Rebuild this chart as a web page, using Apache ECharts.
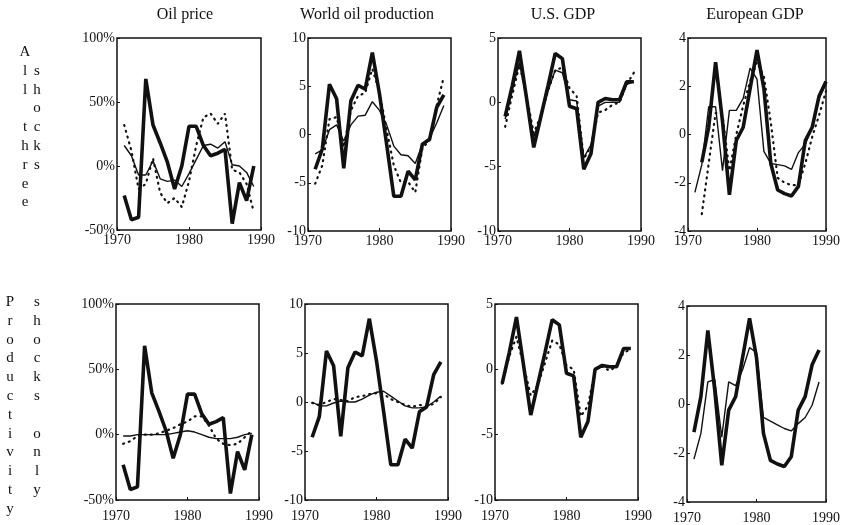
<!DOCTYPE html>
<html>
<head>
<meta charset="utf-8">
<script src="https://cdn.jsdelivr.net/npm/echarts@6/dist/echarts.min.js"></script>
<style>
  html, body { margin: 0; padding: 0; background: #fff; }
  #chart { width: 843px; height: 525px; }
</style>
</head>
<body>
<div id="chart"></div>
<script>
// years of the annual observations
var years = [1971, 1972, 1973, 1974, 1975, 1976, 1977, 1978, 1979, 1980,
             1981, 1982, 1983, 1984, 1985, 1986, 1987, 1988, 1989];
var yearsLate = [1972, 1973, 1974, 1975, 1976, 1977, 1978, 1979, 1980, 1981,
                 1982, 1983, 1984, 1985, 1986, 1987, 1988, 1989, 1990];
var yearsLong = [1971, 1972, 1973, 1974, 1975, 1976, 1977, 1978, 1979, 1980,
                 1981, 1982, 1983, 1984, 1985, 1986, 1987, 1988, 1989, 1990];

var titles = ['Oil price', 'World oil production', 'U.S. GDP', 'European GDP'];
var xTicks = [1970, 1990, 10];
// [min, max, interval, suffix] for each column
var yTicks = [[-50, 100, 50, '%'], [-10, 10, 5, ''], [-10, 5, 5, ''], [-4, 4, 2, '']];

// oil price
var oilActual = [-23, -42, -40, 68, 32, 18, 3, -18, 0, 31, 31, 16, 8, 10, 13, -45, -13, -27, 0];
var oilAllThin = [16, 8, -7, -7, 4, -10, -12, -11, -16, -6, 5, 16, 17, 14, 19, 1, 0, -5, -16];
var oilAllDot = [32, 12, -18, -14, 6, -21, -29, -25, -32, -12, 16, 38, 41, 33, 41, -3, -5, -14, -36];
var oilProdThin = [-1, -1, 0, 0, 0, 0, 0, 1, 2, 3, 2, 0, -2, -3, -3, -3, -2, 0, 1];
var oilProdDot = [-7, -5, -1, 0, 0, 1, 3, 5, 8, 10, 14, 14, 7, -3, -7, -8, -7, -2, 3];

// world oil production
var worldActual = [-3.6, -1.5, 5.2, 3.7, -3.5, 3.5, 5.1, 4.7, 8.5, 4.2, -1.0, -6.4, -6.4, -3.8, -4.7, -1.0, -0.5, 2.8, 4.1];
var worldAllThin = [-2.0, -1.6, 0.5, 1.0, -0.7, 1.0, 1.9, 2.0, 3.4, 2.5, 1.0, -1.2, -2.1, -2.2, -3.0, -1.0, -0.4, 1.2, 3.0];
var worldAllDot = [-5.1, -3.2, 1.6, 1.8, -1.3, 2.5, 4.0, 4.3, 6.8, 4.4, 0.5, -3.2, -5.0, -4.9, -6.0, -1.4, -0.6, 3.0, 6.0];
var worldProdThin = [0, -0.4, -0.4, -0.1, 0.1, 0, 0, 0.3, 0.7, 1.0, 1.1, 0.6, 0.1, -0.4, -0.6, -0.6, -0.5, 0, 0.6];
var worldProdDot = [-0.1, -0.3, 0, 0.3, 0.2, 0.1, 0.5, 0.6, 0.8, 0.9, 0.8, 0.3, 0, -0.3, -0.5, -0.3, -0.4, -0.2, 0.5];

// U.S. GDP
var usActual = [-1.1, 1.3, 4.0, 0.3, -3.5, -1.1, 1.3, 3.8, 3.4, -0.3, -0.5, -5.2, -4.0, 0.0, 0.3, 0.2, 0.2, 1.6, 1.6];
var usAllThin = [-1.3, 1.0, 3.1, 0.2, -2.7, -1.1, 0.9, 2.5, 2.3, 0.2, 0.1, -4.3, -3.3, -0.3, 0.0, 0.0, 0.0, 1.4, 1.6];
var usAllDot = [-1.9, 0.6, 2.9, 0.5, -2.4, -1.0, 0.9, 2.5, 2.7, 1.1, 0.5, -4.4, -3.4, -0.8, -0.6, -0.2, 0.0, 1.4, 2.3];
var usProdDot = [-1.1, 1.0, 2.5, 0.3, -2.0, -1.2, 0.5, 2.2, 1.9, 0.3, 0.0, -3.6, -2.8, 0.0, 0.2, -0.1, 0.2, 1.3, 1.5];

// European GDP
var euActual = [-1.15, 0.3, 3.0, 0.55, -2.5, -0.25, 0.3, 1.9, 3.5, 1.9, -1.2, -2.3, -2.45, -2.55, -2.15, -0.25, 0.3, 1.6, 2.2];
var euAllThin = [-2.4, -1.25, 1.15, 1.15, -1.5, 1.0, 1.0, 1.5, 2.75, 2.3, -0.7, -1.2, -1.25, -1.3, -1.45, -0.75, -0.4, 0.3, 1.5, 2.1];
var euAllDot = [-3.3, -1.2, 0.9, 0.8, -1.5, 0.0, 1.2, 2.2, 3.0, 2.4, 0.5, -1.8, -2.0, -2.1, -2.1, -1.2, -0.1, 0.8, 1.8];
var euProdThin = [-2.25, -1.2, 0.9, 1.0, -1.35, 0.9, 0.75, 1.4, 2.3, 2.1, -0.55, -0.7, -0.85, -1.0, -1.1, -0.8, -0.55, -0.05, 0.9];

var FONT = 'Liberation Serif';
var INK = '#111';

var grids = [
    {left: 117, top: 38, width: 144, height: 192},
    {left: 308, top: 38, width: 143, height: 193},
    {left: 498, top: 38, width: 143, height: 193},
    {left: 688, top: 38, width: 142, height: 193},
    {left: 116, top: 304, width: 143, height: 196},
    {left: 305, top: 304, width: 143, height: 196},
    {left: 495, top: 304, width: 143, height: 196},
    {left: 687, top: 306, width: 142, height: 196}
];

var styles = {
    thick: {width: 3.6, color: INK},
    thin: {width: 1.4, color: INK},
    dot: {width: 2.2, color: INK, type: [1, 5], cap: 'round'}
};

function line(gi, xs, ys, kind) {
    return {
        type: 'line',
        xAxisIndex: gi,
        yAxisIndex: gi,
        data: xs.map(function (x, i) { return [x, ys[i]]; }),
        showSymbol: false,
        silent: true,
        lineStyle: styles[kind],
        z: kind === 'thick' ? 3 : 2
    };
}

var xAxes = [], yAxes = [];
grids.forEach(function (g, i) {
    var col = i % 4, yt = yTicks[col];
    xAxes.push({
        type: 'value', gridIndex: i, min: xTicks[0], max: xTicks[1], interval: xTicks[2],
        splitLine: {show: false},
        axisLine: {show: false, onZero: false},
        axisTick: {inside: true, length: 3, lineStyle: {color: INK}},
        axisLabel: {color: INK, fontFamily: FONT, fontSize: 14, margin: i < 4 ? 3 : 9,
            formatter: function (v) { return String(v); }}
    });
    yAxes.push({
        type: 'value', gridIndex: i, min: yt[0], max: yt[1], interval: yt[2],
        splitLine: {show: false},
        axisLine: {show: false, onZero: false},
        axisTick: {inside: true, length: 3, lineStyle: {color: INK}},
        axisLabel: {color: INK, fontFamily: FONT, fontSize: 14, margin: 2,
            formatter: function (v) { return v + yt[3]; }}
    });
});

var series = [
    line(0, years, oilAllDot, 'dot'),
    line(0, years, oilAllThin, 'thin'),
    line(0, years, oilActual, 'thick'),
    line(1, years, worldAllDot, 'dot'),
    line(1, years, worldAllThin, 'thin'),
    line(1, years, worldActual, 'thick'),
    line(2, years, usAllDot, 'dot'),
    line(2, years, usAllThin, 'thin'),
    line(2, years, usActual, 'thick'),
    line(3, yearsLate, euAllDot, 'dot'),
    line(3, yearsLong, euAllThin, 'thin'),
    line(3, yearsLate, euActual, 'thick'),
    line(4, years, oilProdDot, 'dot'),
    line(4, years, oilProdThin, 'thin'),
    line(4, years, oilActual, 'thick'),
    line(5, years, worldProdDot, 'dot'),
    line(5, years, worldProdThin, 'thin'),
    line(5, years, worldActual, 'thick'),
    line(6, years, usProdDot, 'dot'),
    line(6, years, usActual, 'thick'),
    line(7, years, euProdThin, 'thin'),
    line(7, years, euActual, 'thick')
];

// text: column titles and the vertical row captions
var graphics = [];
var titleX = [185, 367, 563, 755];
titles.forEach(function (t, i) {
    graphics.push({type: 'text', x: titleX[i], y: 15,
        style: {text: t, fill: INK, font: '16px "' + FONT + '"', textAlign: 'center', textVerticalAlign: 'middle'}});
});
function column(letters, x, y0, step) {
    letters.split('').forEach(function (ch, k) {
        if (ch === ' ') return;
        graphics.push({type: 'text', x: x, y: y0 + k * step,
            style: {text: ch, fill: INK, font: '15px "' + FONT + '"', textAlign: 'center', textVerticalAlign: 'middle'}});
    });
}
column('All three', 25, 52, 18.8);
column(' shocks', 37, 52, 18.8);
column('Productivity', 10, 302, 18.8);
column('shocks only', 37, 302, 18.8);

var chart = echarts.init(document.getElementById('chart'));
chart.setOption({
    animation: false,
    backgroundColor: '#fff',
    grid: grids.map(function (g) {
        return {left: g.left, top: g.top, width: g.width, height: g.height,
            show: true, borderColor: INK, borderWidth: 1.5, backgroundColor: 'transparent'};
    }),
    xAxis: xAxes,
    yAxis: yAxes,
    series: series,
    graphic: graphics
});
</script>
</body>
</html>
